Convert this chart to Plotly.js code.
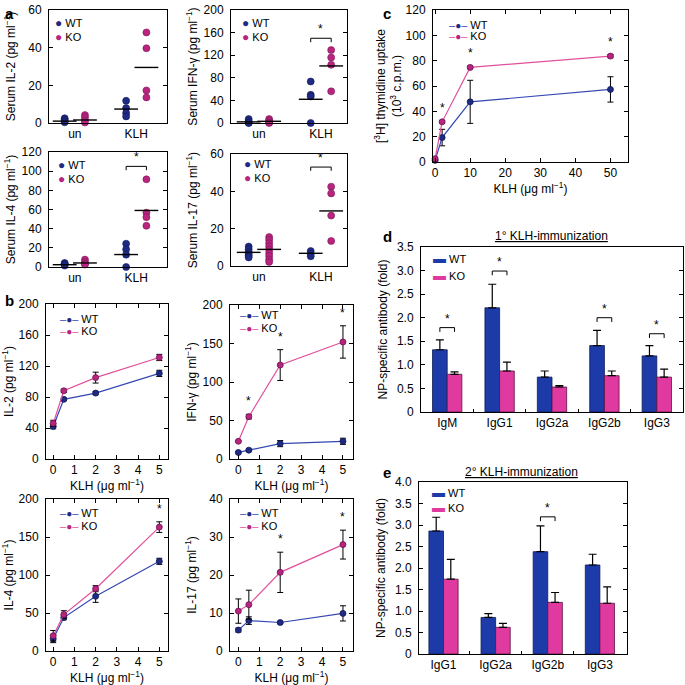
<!DOCTYPE html>
<html>
<head>
<meta charset="utf-8">
<script src="https://cdn.plot.ly/plotly-3.0.1.min.js"></script>
<style>body{margin:0;background:#fff}#fig{width:685px;height:685px}</style>
</head>
<body>
<div id="fig"></div>
<script>
// ---- panel a: serum cytokines, single mice (un / KLH)
var aGroups = ["un", "KLH"];
var il2WT = [[2.5, 1.8, 1.0, 0.4], [11.8, 7.9, 5.3, 3.5]];
var il2KO = [[4.2, 3.0, 1.5, 0.3], [48.1, 39.7, 17.3, 13.6]];
var il2MeanWT = [1.0, 7.4], il2MeanKO = [1.6, 29.5];
var ifnWT = [[7, 3, 0.5, 0], [73.5, 50, 47, 0]];
var ifnKO = [[7, 4, 1, 0], [129, 116, 103, 56]];
var ifnMeanWT = [2, 42], ifnMeanKO = [3, 101];
var il4WT = [[4.2, 3.5, 2.5, 1.5], [24.3, 18.4, 12.9, 0]];
var il4KO = [[7.7, 5.2, 3.5, 2.5], [91.5, 56.7, 52, 43]];
var il4MeanWT = [2.4, 13], il4MeanKO = [4.2, 59];
var il17WT = [[10.4, 9, 7.5, 6.5, 5.5, 4.6], [8, 6.5, 5.2]];
var il17KO = [[15.5, 14, 12.2, 10.5, 8.8, 7, 5.3, 3.5, 2.2], [42.5, 38.9, 27, 13.4]];
var il17MeanWT = [7.3, 6.8], il17MeanKO = [8.9, 29.5];
// significance brackets (KLH group)
var aSigIFN = 150, aSigIL4 = 105, aSigIL17 = 53;

// ---- panel b: in vitro recall, KLH dose
var bDose = [0, 0.5, 2, 5];
var bIL2WT = [42, 77, 85, 110.5], bIL2WTerr = [3, 1.5, 2, 4];
var bIL2KO = [46, 88, 105, 131], bIL2KOerr = [4, 2, 7, 4];
var bIFNWT = [8.5, 11.5, 20, 23], bIFNWTerr = [1, 1, 4, 4];
var bIFNKO = [23, 55, 122, 152], bIFNKOerr = [1, 3, 20, 21];
var bIL4WT = [16, 44, 72, 118], bIL4WTerr = [5, 3, 8, 4];
var bIL4KO = [20, 48, 82, 163], bIL4KOerr = [7, 5, 4, 7];
var bIL17WT = [5.5, 8, 7.5, 9.9], bIL17WTerr = [0.5, 1, 0.3, 2];
var bIL17KO = [10.5, 12.2, 20.7, 28], bIL17KOerr = [3.2, 3.8, 5.3, 3.8];
var bStarIFN = [1, 2, 3], bStarIL4 = [3], bStarIL17 = [2, 3];

// ---- panel c: thymidine uptake
var cDose = [0, 2, 10, 50];
var cWT = [1.3, 19.3, 47.5, 57.3], cWTerr = [0.5, 6.5, 17, 10];
var cKO = [2.6, 31.7, 74.7, 83.6], cKOerr = [1, 1, 1, 1.2];
var cStar = [1, 2, 3];

// ---- panel d / e: NP-specific antibody
var dIso = ["IgM", "IgG1", "IgG2a", "IgG2b", "IgG3"];
var dWT = [1.32, 2.21, 0.74, 1.41, 1.19], dWTerr = [0.21, 0.5, 0.13, 0.32, 0.22];
var dKO = [0.8, 0.87, 0.53, 0.77, 0.74], dKOerr = [0.05, 0.19, 0.03, 0.1, 0.17];
var dSigIdx = [0, 1, 3, 4], dSigY = [1.79, 2.99, 2.0, 1.66];
var eIso = ["IgG1", "IgG2a", "IgG2b", "IgG3"];
var eWT = [2.86, 0.85, 2.38, 2.07], eWTerr = [0.32, 0.09, 0.6, 0.25];
var eKO = [1.74, 0.62, 1.2, 1.18], eKOerr = [0.46, 0.09, 0.23, 0.38];
var eSigIdx = [2], eSigY = [3.19];

var W = 685;
var FONT = "Liberation Sans, Arial, Helvetica, sans-serif";
var FS = 12;
var DOT_WT = "#1f2a82", DOT_KO = "#b7257f";
var LN_WT = "#3447b3", LN_KO = "#e0509c";
var BAR_WT = "#1c3aa8", BAR_KO = "#e03aa0";
var SUP = " (pg ml<sup>\u22121</sup>)";
var KLHT = "KLH (\u03bcg ml<sup>\u22121</sup>)";

function xd(l, r) { return [l / W, r / W]; }
function yd(t, b) { return [1 - b / W, 1 - t / W]; }
function sfx(n) { return n === 1 ? "" : String(n); }

var data = [];
var layout = {
  width: 685, height: 685,
  margin: {l: 0, r: 0, t: 0, b: 0},
  paper_bgcolor: "white", plot_bgcolor: "white",
  font: {family: FONT, size: FS, color: "black"},
  barmode: "overlay", showlegend: false,
  annotations: []
};

function setAxes(n, xdom, ydom, xo, yo) {
  var base = {showline: true, linecolor: "black", linewidth: 1, mirror: "ticks",
    ticks: "inside", ticklen: 4, tickcolor: "black", showgrid: false, zeroline: false,
    tickfont: {size: FS}};
  layout["xaxis" + sfx(n)] = Object.assign({}, base, {domain: xdom, anchor: "y" + sfx(n)}, xo);
  layout["yaxis" + sfx(n)] = Object.assign({}, base, {domain: ydom, anchor: "x" + sfx(n), ticklabelstandoff: 4}, yo);
}

// legend entries written as text next to the plot frame
function sym(color, ch, size) {
  return "<span style=\"color:" + color + ";font-size:" + size + "px\">" + ch + "</span>";
}
function legendPair(px, py, gap, symWT, symKO) {
  [[symWT, "WT", 0], [symKO, "KO", gap]].forEach(function (e) {
    layout.annotations.push({xref: "paper", yref: "paper", x: px / W, y: 1 - (py + e[2]) / W,
      xanchor: "left", yanchor: "middle", showarrow: false, text: e[0] + " " + e[1], font: {size: 11}});
  });
}
var dotWT = sym(DOT_WT, "\u25cf", 12), dotKO = sym(DOT_KO, "\u25cf", 12);
var lineWT = sym(LN_WT, "\u2013", 11) + sym(DOT_WT, "\u25cf", 10) + sym(LN_WT, "\u2013", 11);
var lineKO = sym(LN_KO, "\u2013", 11) + sym(DOT_KO, "\u25cf", 10) + sym(LN_KO, "\u2013", 11);
var barWT = sym(BAR_WT, "\u25ac", 13), barKO = sym(BAR_KO, "\u25ac", 13);

function star(n, x, y, shift) {
  layout.annotations.push({xref: "x" + sfx(n), yref: "y" + sfx(n), x: x, y: y, text: "*",
    showarrow: false, yanchor: "bottom", yshift: shift, font: {size: 12}});
}

function bracket(n, xc, half, y, tail) {
  data.push({type: "scatter", mode: "lines", xaxis: "x" + sfx(n), yaxis: "y" + sfx(n),
    x: [xc - half, xc - half, xc + half, xc + half], y: [y - tail, y, y, y - tail],
    line: {color: "black", width: 1}, hoverinfo: "skip", cliponaxis: false});
  star(n, xc, y, 0);
}

// panel a
var OFF = 0.165;
function dotPanel(n, wt, ko, mWT, mKO) {
  var ax = {xaxis: "x" + sfx(n), yaxis: "y" + sfx(n)};
  [[wt, -OFF, DOT_WT, "WT", "#111a5a"], [ko, OFF, DOT_KO, "KO", "#7d1558"]].forEach(function (s) {
    var xs = [], ys = [];
    s[0].forEach(function (vals, g) { vals.forEach(function (v) { xs.push(g + s[1]); ys.push(v); }); });
    data.push(Object.assign({type: "scatter", mode: "markers", x: xs, y: ys, name: s[3], cliponaxis: false,
      marker: {color: s[2], size: 7, line: {color: s[4], width: 0.6}}}, ax));
  });
  [[mWT, -OFF], [mKO, OFF]].forEach(function (m) {
    data.push(Object.assign({type: "scatter", mode: "markers", cliponaxis: false,
      x: m[0].map(function (v, g) { return g + m[1]; }), y: m[0],
      marker: {symbol: "line-ew", size: 17, line: {color: "black", width: 1.4}}}, ax));
  });
}

function aAxes(n, xdom, ydom, rng, dt, title, xr) {
  setAxes(n, xdom, ydom,
    {range: xr, tickvals: [0, 1], ticktext: aGroups, ticks: "", mirror: true},
    {range: [0, rng], dtick: dt, title: {text: title, font: {size: FS}}});
}

aAxes(1, xd(49, 167), yd(10, 123), 60, 20, "Serum IL-2" + SUP, [-0.42, 1.5]);
aAxes(2, xd(231, 347), yd(10, 123), 200, 40, "Serum IFN-\u03b3" + SUP, [-0.45, 1.42]);
aAxes(3, xd(49, 167), yd(152, 267), 120, 20, "Serum IL-4" + SUP, [-0.42, 1.5]);
aAxes(4, xd(231, 347), yd(154, 266), 60, 20, "Serum IL-17" + SUP, [-0.45, 1.42]);
dotPanel(1, il2WT, il2KO, il2MeanWT, il2MeanKO);
dotPanel(2, ifnWT, ifnKO, ifnMeanWT, ifnMeanKO);
dotPanel(3, il4WT, il4KO, il4MeanWT, il4MeanKO);
dotPanel(4, il17WT, il17KO, il17MeanWT, il17MeanKO);
bracket(2, 1, OFF, aSigIFN, 7);
bracket(3, 1, OFF, aSigIL4, 4);
bracket(4, 1, OFF, aSigIL17, 2);
legendPair(53, 23, 14, dotWT, dotKO);
legendPair(240, 23, 14, dotWT, dotKO);
legendPair(56, 165, 14, dotWT, dotKO);
legendPair(242, 164, 14, dotWT, dotKO);

// panels b and c
function linePanel(n, x, wt, wtErr, ko, koErr, stars, shift) {
  var ax = {xaxis: "x" + sfx(n), yaxis: "y" + sfx(n)};
  [[wt, wtErr, LN_WT, DOT_WT, "#101850", "WT"], [ko, koErr, LN_KO, DOT_KO, "#6a1250", "KO"]].forEach(function (s) {
    data.push(Object.assign({type: "scatter", mode: "lines+markers", x: x, y: s[0], name: s[5], cliponaxis: false,
      line: {color: s[2], width: 1.2},
      marker: {color: s[3], size: 6, line: {color: s[4], width: 0.8}},
      error_y: {type: "data", array: s[1], color: "black", thickness: 1, width: 3}}, ax));
  });
  stars.forEach(function (i) { star(n, x[i], ko[i] + koErr[i], shift); });
}

function bAxes(n, xdom, ydom, xr, rng, dt, title, so) {
  setAxes(n, xdom, ydom,
    {range: xr, dtick: 1, title: {text: KLHT, font: {size: FS}, standoff: so}},
    {range: [0, rng], dtick: dt, title: {text: title, font: {size: FS}}});
}
bAxes(5, xd(46, 168), yd(304, 459), [-0.34, 5.41], 200, 40, "IL-2" + SUP, 3);
bAxes(6, xd(230, 353), yd(305, 459), [-0.4, 5.48], 200, 50, "IFN-\u03b3" + SUP, 3);
bAxes(7, xd(46, 168), yd(499, 651), [-0.34, 5.41], 200, 50, "IL-4" + SUP, 0);
bAxes(8, xd(230, 353), yd(499, 651), [-0.4, 5.48], 40, 10, "IL-17" + SUP, 0);
linePanel(5, bDose, bIL2WT, bIL2WTerr, bIL2KO, bIL2KOerr, [], 4);
linePanel(6, bDose, bIFNWT, bIFNWTerr, bIFNKO, bIFNKOerr, bStarIFN, 4);
linePanel(7, bDose, bIL4WT, bIL4WTerr, bIL4KO, bIL4KOerr, bStarIL4, 4);
linePanel(8, bDose, bIL17WT, bIL17WTerr, bIL17KO, bIL17KOerr, bStarIL17, 4);
legendPair(58, 319, 12, lineWT, lineKO);
legendPair(238, 315, 13, lineWT, lineKO);
legendPair(58, 513, 13, lineWT, lineKO);
legendPair(238, 513, 13, lineWT, lineKO);

setAxes(9, xd(433, 628), yd(10, 162),
  {range: [-0.6, 55], dtick: 10, title: {text: KLHT, font: {size: FS}, standoff: 3}},
  {range: [0, 120], dtick: 20, title: {text: "[<sup>3</sup>H] thymidine uptake<br>(10<sup>3</sup> c.p.m.)", font: {size: FS}}});
linePanel(9, cDose, cWT, cWTerr, cKO, cKOerr, cStar, 4);
legendPair(447, 25, 11, lineWT, lineKO);

// panels d and e
var BW = 0.28;
function barPanel(n, cats, wt, wtErr, ko, koErr, sigIdx, sigY, tail) {
  var ax = {xaxis: "x" + sfx(n), yaxis: "y" + sfx(n)};
  var idx = cats.map(function (c, i) { return i; });
  [[wt, wtErr, BAR_WT, "#0d1a55", "WT", -BW], [ko, koErr, BAR_KO, "#5a1040", "KO", 0]].forEach(function (s) {
    data.push(Object.assign({type: "bar", x: idx, y: s[0], name: s[4],
      width: BW, offset: s[5],
      marker: {color: s[2], line: {color: s[3], width: 0.8}},
      error_y: {type: "data", symmetric: false, array: s[1], arrayminus: s[1].map(function () { return 0; }),
        color: "black", thickness: 1.2, width: 4}}, ax));
  });
  sigIdx.forEach(function (i, k) { bracket(n, i, BW / 2, sigY[k], tail); });
}

function abTicks(top) {
  var v = [], t = [];
  for (var k = 0; k <= top * 2; k++) { v.push(k / 2); t.push(k === 0 ? "0" : (k / 2).toFixed(1)); }
  return {tickvals: v, ticktext: t};
}

function catAxes(n, xdom, ydom, cats, xr, top) {
  var bounds = cats.slice(1).map(function (c, i) { return i + 0.5; });
  setAxes(n, xdom, ydom,
    {range: xr, tickvals: cats.map(function (c, i) { return i; }), ticktext: cats, ticks: "", mirror: true,
      minor: {tickvals: bounds, ticks: "inside", ticklen: 3, tickcolor: "black"}},
    Object.assign({range: [0, top], title: {text: "NP-specific antibody (fold)", font: {size: FS}}}, abTicks(top)));
}
catAxes(10, xd(421, 683), yd(247, 412), dIso, [-0.5, 4.5], 3.5);
catAxes(11, xd(419, 627), yd(482, 654), eIso, [-0.47, 3.52], 4.0);
barPanel(10, dIso, dWT, dWTerr, dKO, dKOerr, dSigIdx, dSigY, 0.09);
barPanel(11, eIso, eWT, eWTerr, eKO, eKOerr, eSigIdx, eSigY, 0.1);
legendPair(431, 258, 17, barWT, barKO);
legendPair(430, 492, 15, barWT, barKO);

layout.annotations.push(
  {xref: "paper", yref: "paper", x: 551 / W, y: 1 - 236 / W, xanchor: "center", yanchor: "middle",
    text: "<u>1\u00b0 KLH-immunization</u>", showarrow: false, font: {size: FS}},
  {xref: "paper", yref: "paper", x: 521 / W, y: 1 - 472 / W, xanchor: "center", yanchor: "middle",
    text: "<u>2\u00b0 KLH-immunization</u>", showarrow: false, font: {size: FS}}
);
[["a", 3, 3], ["b", 3, 290], ["c", 381, 3], ["d", 381, 226], ["e", 381, 462]].forEach(function (p) {
  layout.annotations.push({xref: "paper", yref: "paper", x: p[1] / W, y: 1 - p[2] / W,
    xanchor: "left", yanchor: "top", text: "<b>" + p[0] + "</b>", showarrow: false, font: {size: 15}});
});

Plotly.newPlot("fig", data, layout, {staticPlot: true});
</script>
</body>
</html>
